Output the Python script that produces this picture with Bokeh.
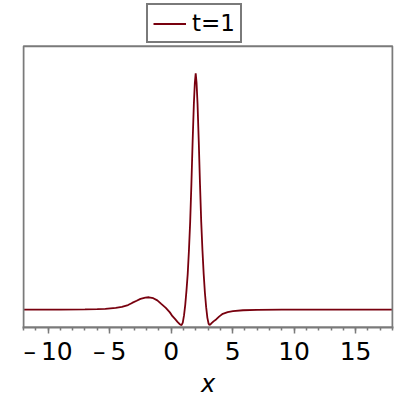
from bokeh.plotting import figure
from bokeh.models import Range1d, Legend, LegendItem, SingleIntervalTicker, BoxAnnotation
from bokeh.embed import file_html
from bokeh.resources import INLINE

# curve (x, value)
x_vals = [-12, -9, -7, -6, -5.35, -4.5, -4.0, -3.5, -3.17, -2.8, -2.49, -2.1, -1.8,
          -1.45, -1.12, -0.8, -0.43, -0.1, 0.11, 0.35, 0.52, 0.7, 0.85, 0.95, 1.05,
          1.15, 1.25, 1.35, 1.45, 1.55, 1.65, 1.75, 1.85, 1.93, 2.0, 2.07, 2.15, 2.25,
          2.35, 2.45, 2.55, 2.65, 2.75, 2.85, 2.95, 3.05, 3.12, 3.25, 3.45, 3.66, 3.9,
          4.2, 4.6, 5.03, 5.85, 7, 9, 18]
y_vals = [0.0, 0.0, 0.001, 0.002, 0.003, 0.007, 0.011, 0.019, 0.028, 0.037, 0.045, 0.050, 0.052,
          0.048, 0.039, 0.024, 0.007, -0.012, -0.028, -0.042, -0.052, -0.062, -0.066, -0.055, -0.025,
          0.02, 0.08, 0.15, 0.25, 0.37, 0.53, 0.71, 0.87, 0.96, 1.0, 0.96, 0.87, 0.71,
          0.53, 0.37, 0.25, 0.15, 0.07, 0.01, -0.035, -0.06, -0.066, -0.060, -0.050, -0.042, -0.030,
          -0.018, -0.011, -0.007, -0.003, -0.001, 0.0, 0.0]
series_name = "t=1"
x_view = [-12, 18]
y_view = [-0.076, 1.114]
x_tick_labels = {-10: "\u2013\u200910", -5: "\u2013\u20095", 0: "0", 5: "5", 10: "10", 15: "15"}

GRAY = "#7a7a7a"
RED = "#78000E"

# frame extends upward to hold the legend; the visible plot box is drawn as an annotation
p = figure(width=400, height=400, output_backend="svg", toolbar_location=None,
           x_range=Range1d(x_view[0] - 0.08, x_view[1] + 0.08),
           y_range=Range1d(y_view[0], 1.308),
           min_border_left=22, min_border_right=7, min_border_top=0, min_border_bottom=72)

r = p.line(x_vals, y_vals, line_color=RED, line_width=1.8)

p.add_layout(BoxAnnotation(left=x_view[0], right=x_view[1], bottom=y_view[0], top=y_view[1],
                           fill_alpha=0, line_color=GRAY, line_alpha=1.0, line_width=2))

p.xgrid.visible = False
p.ygrid.visible = False
p.yaxis.visible = False
p.outline_line_color = None
p.background_fill_color = "white"
p.border_fill_color = "white"

ax = p.xaxis[0]
ax.ticker = SingleIntervalTicker(interval=5, num_minor_ticks=5)
ax.major_label_overrides = x_tick_labels
ax.axis_line_color = GRAY
ax.axis_line_width = 2
ax.major_tick_line_color = GRAY
ax.minor_tick_line_color = GRAY
ax.major_tick_line_width = 1.5
ax.minor_tick_line_width = 1.5
ax.major_tick_in = 0
ax.major_tick_out = 6
ax.minor_tick_in = 0
ax.minor_tick_out = 3
ax.major_label_text_font = "DejaVu Sans"
ax.major_label_text_font_size = "25px"
ax.major_label_text_color = "black"
ax.major_label_standoff = 3
ax.axis_label = "x"
ax.axis_label_text_font = "DejaVu Sans"
ax.axis_label_text_font_style = "italic"
ax.axis_label_text_font_size = "24px"
ax.axis_label_text_color = "black"
ax.axis_label_standoff = 1

legend = Legend(items=[LegendItem(label=series_name, renderers=[r])],
                location=(124, 284), orientation="horizontal",
                label_text_font="DejaVu Sans", label_text_font_size="23px",
                label_text_color="black",
                glyph_width=33, glyph_height=25, label_height=25,
                padding=5, margin=0, spacing=0, label_standoff=6,
                border_line_color=GRAY, border_line_alpha=1.0, border_line_width=2,
                background_fill_alpha=1.0)
p.add_layout(legend, "center")

open("out.html", "w").write(file_html(p, INLINE))
